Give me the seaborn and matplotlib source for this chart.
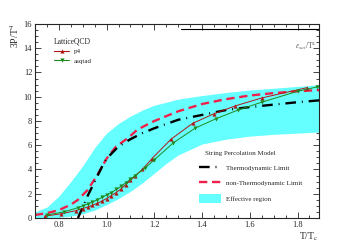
import numpy as np
import pandas as pd
import seaborn as sns
import matplotlib.pyplot as plt
from matplotlib.lines import Line2D
from matplotlib.patches import Patch
from matplotlib.ticker import MultipleLocator

# faixa efetiva (String Percolation Model)
t_band = [0.70, 0.75, 0.80, 0.85, 0.90, 0.95, 1.00, 1.05, 1.10, 1.15, 1.20, 1.25, 1.30, 1.40, 1.50, 1.60, 1.70, 1.80, 1.90]
band_low = [0.0, 0.02, 0.05, 0.15, 0.35, 0.65, 1.1, 1.6, 2.2, 2.9, 3.7, 4.5, 5.2, 6.1, 6.5, 6.75, 6.9, 7.0, 7.1]
band_high = [0.5, 0.9, 1.8, 3.0, 4.3, 5.8, 7.0, 7.8, 8.4, 8.9, 9.3, 9.55, 9.8, 10.1, 10.35, 10.55, 10.7, 10.85, 11.0]

# limite termodinâmico
t_thermo = [0.88, 0.90, 0.92, 0.95, 0.98, 1.00, 1.05, 1.10, 1.15, 1.20, 1.30, 1.40, 1.50, 1.60, 1.70, 1.80, 1.89]
e_thermo = [0.0, 0.9, 1.8, 3.0, 4.2, 4.9, 5.9, 6.5, 7.0, 7.4, 8.1, 8.5, 8.9, 9.15, 9.35, 9.55, 9.7]

# limite não termodinâmico
t_nonthermo = [0.70, 0.75, 0.80, 0.85, 0.88, 0.92, 0.96, 1.00, 1.04, 1.09, 1.13, 1.20, 1.30, 1.40, 1.50, 1.60, 1.70, 1.80, 1.89]
e_nonthermo = [0.25, 0.4, 0.65, 1.1, 1.5, 2.3, 3.5, 4.9, 5.9, 6.6, 7.3, 8.0, 8.8, 9.4, 9.8, 10.1, 10.3, 10.45, 10.55]

# LatticeQCD p4
t_p4 = [0.74, 0.81, 0.87, 0.90, 0.92, 0.94, 0.96, 0.98, 1.00, 1.02, 1.04, 1.06, 1.08, 1.10, 1.12, 1.15, 1.19, 1.27, 1.36, 1.45, 1.54, 1.65, 1.84]
p_p4 = [0.15, 0.35, 0.6, 0.78, 0.9, 1.05, 1.2, 1.4, 1.6, 1.85, 2.1, 2.4, 2.75, 3.1, 3.5, 4.0, 4.9, 6.5, 7.8, 8.6, 9.25, 9.9, 10.75]

# LatticeQCD asqtad
t_asq = [0.75, 0.82, 0.88, 0.90, 0.92, 0.94, 0.96, 0.98, 1.00, 1.02, 1.04, 1.06, 1.08, 1.10, 1.12, 1.16, 1.20, 1.28, 1.37, 1.46, 1.55, 1.65, 1.80, 1.88]
p_asq = [0.25, 0.5, 0.85, 1.0, 1.15, 1.3, 1.5, 1.7, 1.9, 2.1, 2.35, 2.6, 2.9, 3.2, 3.5, 4.1, 4.8, 6.2, 7.4, 8.2, 8.9, 9.55, 10.45, 10.8]

sns.set_style("ticks")
plt.rcParams['font.family'] = ['Liberation Serif', 'DejaVu Serif']
plt.rcParams['mathtext.fontset'] = 'stix'

fig = plt.figure(figsize=(3.55, 2.43), dpi=100)
ax = fig.add_axes([0.0986, 0.1029, 0.8, 0.7984])

ciano = '#66ffff'
vermelho = '#f0204a'

ax.fill_between(t_band, band_low, band_high, color=ciano, lw=0)

sns.lineplot(x=t_nonthermo, y=e_nonthermo, ax=ax, color=vermelho, lw=1.7,
             linestyle=(0, (3.5, 2)), sort=False)
sns.lineplot(x=t_thermo, y=e_thermo, ax=ax, color='black', lw=1.7,
             linestyle=(0, (4.5, 2.5, 0.4, 2.5)), sort=False)

sns.lineplot(x=t_p4, y=p_p4, ax=ax, color='#b01818', lw=0.7, marker='^',
             markersize=3, markeredgewidth=0, sort=False)
sns.lineplot(x=t_asq, y=p_asq, ax=ax, color='#1f8a1f', lw=0.7, marker='v',
             markersize=3, markeredgewidth=0, sort=False)

ax.set_xlim(0.7, 1.89)
ax.set_ylim(0, 16)
ax.xaxis.set_major_locator(MultipleLocator(0.2))
ax.xaxis.set_minor_locator(MultipleLocator(0.05))
ax.yaxis.set_major_locator(MultipleLocator(2))
ax.yaxis.set_minor_locator(MultipleLocator(0.5))
ax.tick_params(which='both', direction='in', top=True, right=True, labelsize=6, pad=2, width=0.6)
ax.tick_params(which='major', length=4)
ax.tick_params(which='minor', length=2)
for s in ax.spines.values():
    s.set_linewidth(0.8)

ax.set_ylabel('3P/T$^4$', loc='top', fontsize=7, labelpad=2)
ax.set_xlabel('T/T$_\\mathrm{c}$', loc='right', fontsize=7, labelpad=1)

# eixo secundário no topo
ax.axhline(15.6, xmin=0.514, xmax=1, color='black', lw=0.8)
ax.text(0.99, 0.92, '$\\epsilon_{sat}$/T$^4$', transform=ax.transAxes, ha='right', va='top',
        fontsize=5.5, color='#555555')

h1 = [Line2D([], [], color='#b01818', lw=0.8, marker='^', markersize=3, markeredgewidth=0),
      Line2D([], [], color='#1f8a1f', lw=0.8, marker='v', markersize=3, markeredgewidth=0)]
leg1 = ax.legend(h1, ['p4', 'asqtad'], title='LatticeQCD', loc='upper left',
                 bbox_to_anchor=(0.055, 0.95), frameon=False, fontsize=5,
                 title_fontsize=5.5, alignment='left', handlelength=2.2,
                 handletextpad=0.6, labelspacing=0.5, borderpad=0)
ax.add_artist(leg1)

# título da segunda legenda separado, para controlar o espaçamento
ax.text(0.599, 0.33, 'String Percolation Model', transform=ax.transAxes,
        ha='left', va='center', fontsize=5)
h2 = [Line2D([], [], color='black', lw=1.7, linestyle=(0, (4.5, 2.5, 0.4, 2.5))),
      Line2D([], [], color=vermelho, lw=1.7, linestyle=(0, (3.5, 2))),
      Patch(facecolor=ciano, edgecolor='none')]
ax.legend(h2, ['Thermodynamic Limit', 'non-Thermodynamic Limit', 'Effective region'],
          loc='upper left', bbox_to_anchor=(0.578, 0.281),
          frameon=False, fontsize=5, handlelength=3.2, handleheight=1.6,
          handletextpad=0.6, labelspacing=0.9, borderpad=0, borderaxespad=0)

fig.savefig('out.png', dpi=100)
